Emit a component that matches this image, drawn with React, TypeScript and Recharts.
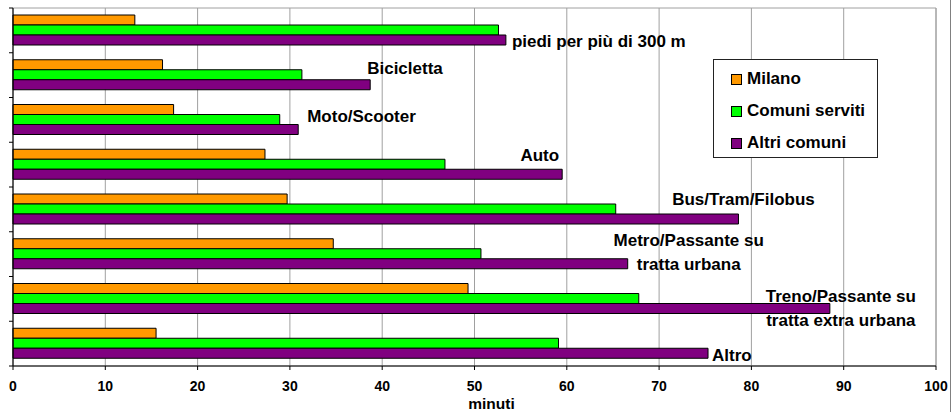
import React from 'react';
import { BarChart, Bar, XAxis, YAxis, CartesianGrid, Legend, LabelList, Label, ReferenceArea } from 'recharts';

const categories = [
  'piedi per più di 300 m',
  'Bicicletta',
  'Moto/Scooter',
  'Auto',
  'Bus/Tram/Filobus',
  'Metro/Passante su\ntratta urbana',
  'Treno/Passante su\ntratta extra urbana',
  'Altro',
];
const milano = [13.2, 16.2, 17.4, 27.3, 29.7, 34.7, 49.3, 15.5];
const comuniServiti = [52.6, 31.3, 28.9, 46.8, 65.3, 50.7, 67.8, 59.1];
const altriComuni = [53.4, 38.7, 30.9, 59.5, 78.6, 66.6, 88.5, 75.3];
const xTicks = [0, 10, 20, 30, 40, 50, 60, 70, 80, 90, 100];

// label placement relative to end of the "Altri comuni" bar (style only)
const labelPlacement = [
  { dx: 6, dy: 1, anchor: 'start' },
  { dx: -3, dy: -17, anchor: 'start' },
  { dx: 9, dy: -14, anchor: 'start' },
  { dx: -3, dy: -19, anchor: 'end' },
  { dx: 5, dy: -20, anchor: 'middle' },
  { dx: 61, dy: -24, anchor: 'middle' },
  { dx: 11, dy: -13, anchor: 'middle' },
  { dx: 4, dy: 2, anchor: 'start' },
];

const series = [
  { key: 'milano', name: 'Milano', color: '#FF9900' },
  { key: 'comuni', name: 'Comuni serviti', color: '#00FF00' },
  { key: 'altri', name: 'Altri comuni', color: '#800080' },
];

const data = categories.map((name, i) => ({
  name,
  milano: milano[i],
  comuni: comuniServiti[i],
  altri: altriComuni[i],
}));

const FONT = '"Liberation Sans", Arial, sans-serif';
const CHART_W = 951;
const CHART_H = 412;
const MARGIN = { top: 8, right: 15, left: 0, bottom: 0 };
const Y_AXIS_W = 13;
const X_AXIS_H = 46;
const BAND = (CHART_H - MARGIN.top - MARGIN.bottom - X_AXIS_H) / categories.length;

const CategoryLabel = (props: any) => {
  const { x, y, width, height, value } = props;
  const idx = categories.indexOf(value);
  if (idx < 0) return null;
  const p = labelPlacement[idx];
  const lines = String(value).split('\n');
  const endX = Number(x) + Number(width);
  const cy = Number(y) + Number(height) / 2;
  return (
    <text
      x={endX + p.dx}
      y={cy + p.dy + 6}
      textAnchor={p.anchor}
      fontFamily={FONT}
      fontWeight="bold"
      fontSize={17}
      fill="#000"
    >
      {lines.map((l, k) => (
        <tspan key={k} x={endX + p.dx} dy={k === 0 ? 0 : 24.3}>
          {l}
        </tspan>
      ))}
    </text>
  );
};

// tick marks at category boundaries (as in the original spreadsheet chart)
const BoundaryTick = (props: any) => {
  const { x, y, index, visibleTicksCount, payload } = props;
  const half = payload && payload.offset ? payload.offset : BAND / 2;
  const x0 = Number(x);
  const y0 = Number(y);
  const last = index === (visibleTicksCount ?? categories.length) - 1;
  return (
    <g>
      <line x1={x0 - 4} x2={x0} y1={y0 - half} y2={y0 - half} stroke="#000" />
      {last ? <line x1={x0 - 4} x2={x0} y1={y0 + half} y2={y0 + half} stroke="#000" /> : null}
    </g>
  );
};

const LegendBox = () => (
  <div
    style={{
      width: 163,
      height: 97,
      border: '1px solid #222',
      background: '#fff',
      fontFamily: FONT,
      fontWeight: 'bold',
      fontSize: 17,
      boxSizing: 'content-box',
      position: 'relative',
    }}
  >
    {series.map((s, i) => (
      <div
        key={s.key}
        style={{
          position: 'absolute',
          left: 17,
          top: 19 + i * 32 - 10,
          height: 20,
          display: 'flex',
          alignItems: 'center',
          whiteSpace: 'nowrap',
          color: '#000',
        }}
      >
        <span
          style={{
            display: 'inline-block',
            width: 9,
            height: 9,
            background: s.color,
            border: '1px solid #000',
            marginRight: 5,
          }}
        />
        <span>{s.name}</span>
      </div>
    ))}
  </div>
);

export default function App() {
  return (
    <div style={{ position: 'absolute', left: 0, top: 0, width: CHART_W, height: CHART_H, background: '#fff' }}>
      <BarChart
        width={CHART_W}
        height={CHART_H}
        data={data}
        layout="vertical"
        margin={MARGIN}
        barGap={0}
        barSize={10}
      >
        <CartesianGrid stroke="#a0a0a0" horizontal={false} />
        <ReferenceArea x1={0} x2={100} fill="none" stroke="#a0a0a0" ifOverflow="visible" />
        <XAxis
          type="number"
          domain={[0, 100]}
          ticks={xTicks}
          interval={0}
          height={X_AXIS_H}
          tickSize={4}
          tickMargin={11}
          axisLine={{ stroke: '#000' }}
          tickLine={{ stroke: '#000' }}
          tick={{ fill: '#000', fontSize: 14, fontWeight: 'bold', fontFamily: FONT }}
        >
          <Label
            content={(props: any) => {
              const vb = props.viewBox || { x: 13, y: 366, width: 923 };
              return (
                <text
                  x={vb.x + vb.width / 2 + 17}
                  y={vb.y + 42.5}
                  textAnchor="middle"
                  fontFamily={FONT}
                  fontWeight="bold"
                  fontSize={15.5}
                  fill="#000"
                >
                  minuti
                </text>
              );
            }}
          />
        </XAxis>
        <YAxis
          type="category"
          dataKey="name"
          width={Y_AXIS_W}
          interval={0}
          tickSize={0}
          tickMargin={0}
          axisLine={{ stroke: '#000' }}
          tickLine={false}
          tick={<BoundaryTick />}
        />
        <Legend
          layout="vertical"
          align="center"
          verticalAlign="middle"
          wrapperStyle={{ left: 713, top: 59, width: 165, height: 99 }}
          content={() => <LegendBox />}
        />
        {series.map((s) => (
          <Bar
            key={s.key}
            dataKey={s.key}
            name={s.name}
            fill={s.color}
            stroke="#000"
            strokeWidth={1}
            isAnimationActive={false}
          >
            {s.key === 'altri' ? <LabelList dataKey="name" content={CategoryLabel} /> : null}
          </Bar>
        ))}
      </BarChart>
      <div style={{ position: 'absolute', left: 950, top: 0, width: 1, height: CHART_H, background: '#808080' }} />
    </div>
  );
}
